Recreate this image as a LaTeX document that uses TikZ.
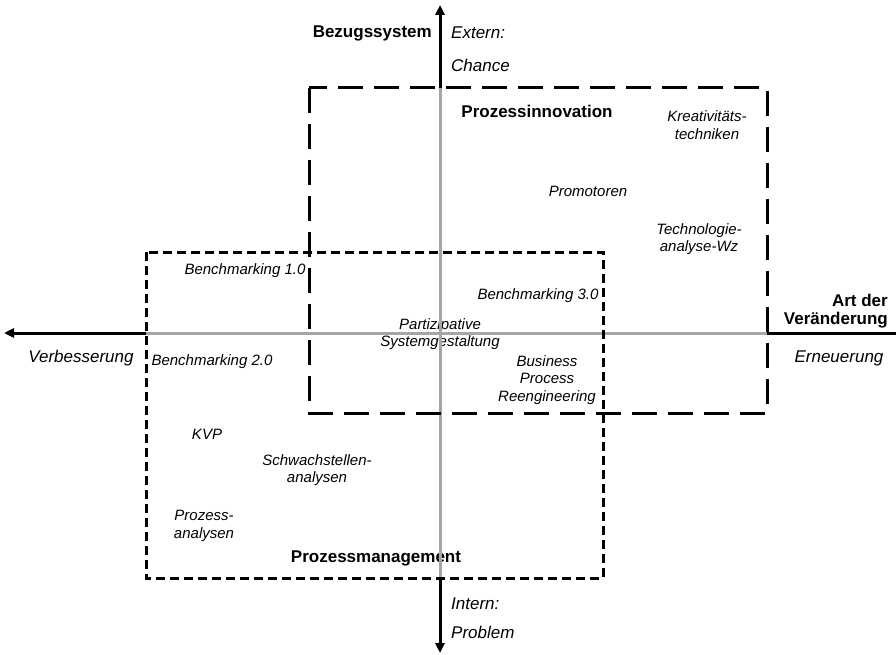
\documentclass[tikz,border=0pt]{standalone}
\usepackage{fontspec}
\setmainfont{Liberation Sans}
\usetikzlibrary{arrows.meta}
\definecolor{axgrey}{HTML}{A6A6A6}
\begin{document}
\begin{tikzpicture}[x=1pt,y=-1pt,
  lbl/.style={font=\fontsize{15}{17.5}\selectfont\itshape, inner sep=0pt, align=center},
  big/.style={font=\fontsize{17}{19}\selectfont\itshape, inner sep=0pt},
  bigb/.style={font=\fontsize{17}{18.5}\selectfont\bfseries, inner sep=0pt},
  axisblack/.style={line width=3pt, draw=black},
  axisgrey/.style={line width=3pt, draw=axgrey},
  tip/.style={-{Triangle[length=10pt,width=9pt]}},
  longdash/.style={line width=3pt, dash pattern=on 25pt off 11pt},
  shortdash/.style={line width=3pt, dash pattern=on 9pt off 5pt}]
\useasboundingbox (0,0) rectangle (896,655);

% labels
\node[bigb, anchor=east] (bez) at (432,33) {Bezugssystem};
\node[big, anchor=west] (ext) at (451,33) {Extern:};
\node[big, anchor=west] (cha) at (451,65) {Chance};
\node[bigb] (pin) at (537,111) {Prozessinnovation};
\node[lbl] (kre) at (707,125) {Kreativitäts-\\techniken};
\node[lbl] (pro) at (588,191) {Promotoren};
\node[lbl] (tec) at (699,239) {Technologie-\\analyse-Wz};
\node[lbl] (b1) at (245,271) {Benchmarking 1.0};
\node[lbl] (b3) at (538,296) {Benchmarking 3.0};
\node[lbl] (par) at (440,334) {Partizipative\\Systemgestaltung};
\node[lbl] (b2) at (212,362) {Benchmarking 2.0};
\node[lbl] (bpr) at (547,380) {Business\\Process\\Reengineering};
\node[lbl] (kvp) at (207,434) {KVP};
\node[lbl] (sch) at (317,470) {Schwachstellen-\\analysen};
\node[lbl] (pan) at (204,526) {Prozess-\\analysen};
\node[bigb] (pm) at (376,558) {Prozessmanagement};
\node[big, anchor=west] (int) at (451,604) {Intern:};
\node[big, anchor=west] (prb) at (451,632) {Problem};
\node[big] (ver) at (81,358) {Verbesserung};
\node[bigb, anchor=east, align=right] (art) at (888,311) {Art der\\Veränderung};
\node[big] (ern) at (839,358) {Erneuerung};

% axes
\coordinate (top) at (440,5);
\coordinate (bt) at (440,88);
\coordinate (sb) at (440,578);
\coordinate (bottom) at (440,653);
\coordinate (left) at (4,333);
\coordinate (sl) at (146,333);
\coordinate (br) at (767,333);
\coordinate (right) at (896,333);

\draw[axisgrey] (bt) -- (sb);
\draw[axisgrey] (sl) -- (br);
\draw[axisblack, tip] (bt) -- (top);
\draw[axisblack, tip] (sb) -- (bottom);
\draw[axisblack, tip] (sl) -- (left);
\draw[axisblack] (br) -- (right);

% regions
\draw[longdash] (309,88) rectangle (767,413);
\draw[shortdash] (146,252) rectangle (603,578);
\end{tikzpicture}
\end{document}
